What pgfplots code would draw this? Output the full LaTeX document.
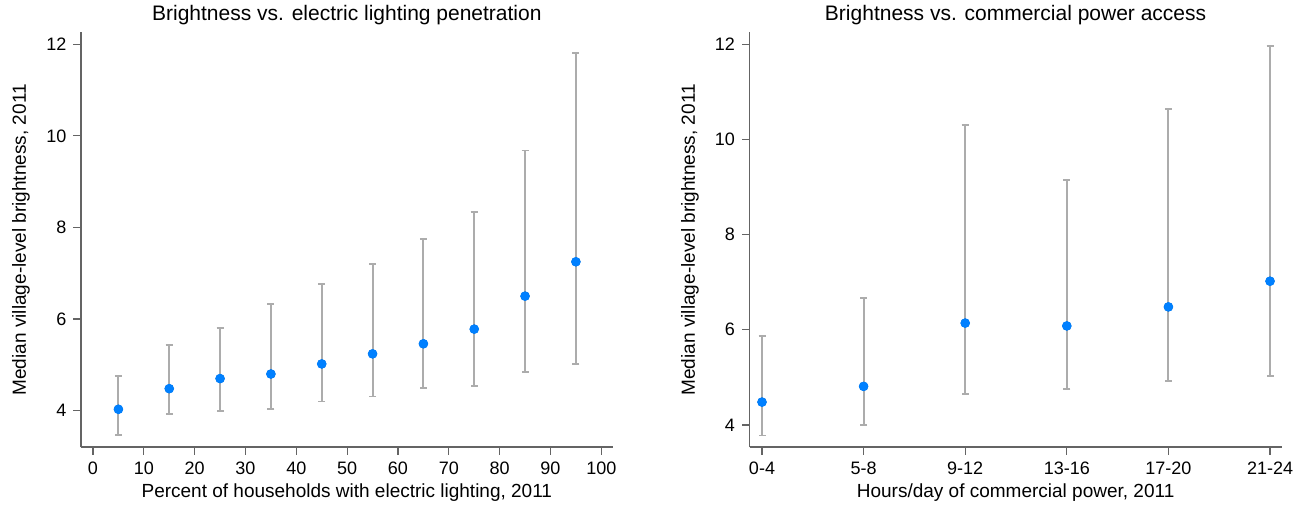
\documentclass[border=0pt]{standalone}
\usepackage{fontspec}
\setmainfont{Liberation Sans}
\usepackage{pgfplots}
\usepackage{pgfplotstable}
\pgfplotsset{compat=1.18}
\definecolor{dotblue}{RGB}{0,128,255}
\definecolor{barg}{RGB}{172,172,172}
\definecolor{spine}{RGB}{100,100,100}

\pgfplotstableread{
x y lo hi
5 4.03 3.46 4.76
15 4.48 3.93 5.43
25 4.70 3.99 5.81
35 4.80 4.04 6.32
45 5.02 4.20 6.76
55 5.24 4.31 7.21
65 5.46 4.49 7.75
75 5.78 4.54 8.33
85 6.50 4.84 9.68
95 7.25 5.02 11.80
}\lefttab

\pgfplotstableread{
x y lo hi
0 4.48 3.78 5.87
1 4.81 4.00 6.67
2 6.14 4.65 10.30
3 6.08 4.76 9.14
4 6.48 4.92 10.63
5 7.02 5.02 11.97
}\righttab

\pgfplotsset{mystyle/.style={
  scale only axis, height=207.5pt,
  axis lines*=left,
  axis line style={spine, line width=0.8pt},
  tick align=outside,
  major tick length=3.75pt,
  tick style={spine, line width=0.6pt},
  xtick pos=bottom, ytick pos=left,
  ytick={4,6,8,10,12},
  tick label style={font=\fontsize{9}{10}\selectfont, text=black},
  /pgf/number format/assume math mode=true,
  every axis title shift=0pt,
  title style={font=\fontsize{10.5}{12}\selectfont, at={(axis description cs:0.5,1)}, anchor=south, yshift=0pt},
  label style={font=\fontsize{9.5}{11}\selectfont},
  xlabel style={at={(axis description cs:0.5,-0.108)}, anchor=center},
  clip=false,
}}

\begin{document}
\begin{tikzpicture}
\useasboundingbox (0,0) rectangle (653pt,254pt);
\begin{axis}[mystyle,
  at={(40.5pt,30.35pt)}, anchor=south west, width=265.85pt,
  xmin=-2.36, xmax=102.24, ymin=3.2, ymax=12.26,
  xtick={0,10,...,100},
  title={Brightness vs. electric lighting penetration},
  xlabel={Percent of households with electric lighting, 2011},
  ylabel={Median village-level brightness, 2011},
  ylabel style={at={(axis description cs:-0.113,0.5)}, anchor=center},
]
\addplot[only marks, mark=none, forget plot,
  error bars/.cd, y dir=both, y explicit,
  error bar style={draw=barg, line width=1pt},
  error mark options={rotate=90, draw=barg, mark size=1.75pt, line width=0.9pt}]
  table[x=x, y=y, y error plus expr=\thisrow{hi}-\thisrow{y}, y error minus expr=\thisrow{y}-\thisrow{lo}] {\lefttab};
\addplot[only marks, mark=*, mark size=2.2pt, draw=dotblue, fill=dotblue]
  table[x=x, y=y] {\lefttab};
\end{axis}

\begin{axis}[mystyle,
  at={(374.75pt,30.35pt)}, anchor=south west, width=266.1pt,
  xmin=-0.123, xmax=5.115, ymin=3.53, ymax=12.25,
  xtick={0,1,2,3,4,5},
  xticklabels={0-4,5-8,9-12,13-16,17-20,21-24},
  title={Brightness vs. commercial power access},
  xlabel={Hours/day of commercial power, 2011},
  ylabel={Median village-level brightness, 2011},
  ylabel style={at={(axis description cs:-0.112,0.5)}, anchor=center},
]
\addplot[only marks, mark=none, forget plot,
  error bars/.cd, y dir=both, y explicit,
  error bar style={draw=barg, line width=1pt},
  error mark options={rotate=90, draw=barg, mark size=1.75pt, line width=0.9pt}]
  table[x=x, y=y, y error plus expr=\thisrow{hi}-\thisrow{y}, y error minus expr=\thisrow{y}-\thisrow{lo}] {\righttab};
\addplot[only marks, mark=*, mark size=2.2pt, draw=dotblue, fill=dotblue]
  table[x=x, y=y] {\righttab};
\end{axis}
\end{tikzpicture}
\end{document}
